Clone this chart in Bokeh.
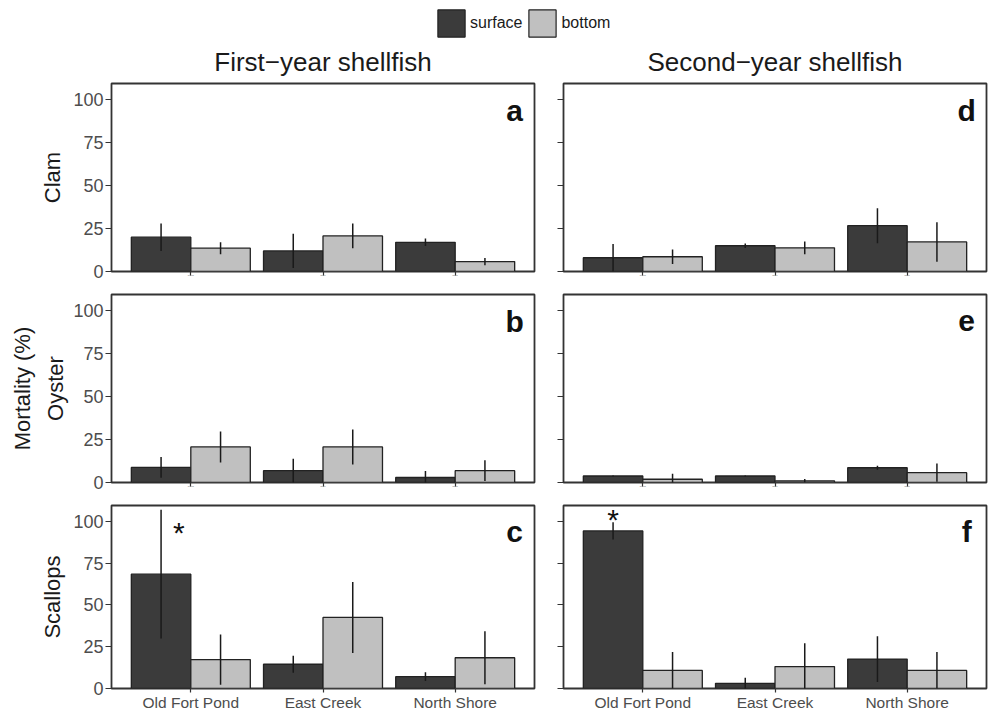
from bokeh.plotting import figure
from bokeh.layouts import column, row
from bokeh.models import (ColumnDataSource, FactorRange, Range1d, FixedTicker,
                          Legend, LegendItem)
from bokeh.transform import dodge
from bokeh.core.properties import value
from bokeh.embed import file_html
from bokeh.resources import INLINE

# ---------------- data ----------------
sites = ["Old Fort Pond", "East Creek", "North Shore"]
y_ticks = [0, 25, 50, 75, 100]
col_titles = ["First\u2212year shellfish", "Second\u2212year shellfish"]
row_labels = ["Clam", "Mortality (%)\nOyster", "Scallops"]
legend_labels = ["surface", "bottom"]
panel_letters = ["a", "b", "c", "d", "e", "f"]

# a: clam, first-year
a_surface = [20.0, 12.0, 17.0]
a_surface_err = [8.0, 10.0, 2.2]
a_bottom = [13.6, 20.7, 5.8]
a_bottom_err = [3.5, 7.2, 2.1]
# b: oyster, first-year
b_surface = [8.8, 6.9, 2.9]
b_surface_err = [6.0, 7.0, 3.8]
b_bottom = [20.7, 20.7, 6.9]
b_bottom_err = [9.0, 10.2, 6.0]
# c: scallops, first-year
c_surface = [68.4, 14.5, 7.1]
c_surface_err = [38.5, 5.1, 2.6]
c_bottom = [17.3, 42.5, 18.4]
c_bottom_err = [15.0, 21.2, 15.9]
# d: clam, second-year
d_surface = [8.0, 15.0, 26.7]
d_surface_err = [8.0, 1.3, 10.2]
d_bottom = [8.6, 13.8, 17.2]
d_bottom_err = [4.2, 3.7, 11.5]
# e: oyster, second-year
e_surface = [3.8, 3.8, 8.6]
e_surface_err = [0.3, 0.3, 1.2]
e_bottom = [1.9, 1.0, 5.7]
e_bottom_err = [3.2, 1.0, 5.3]
# f: scallops, second-year
f_surface = [94.3, 3.1, 17.6]
f_surface_err = [5.2, 3.4, 13.7]
f_bottom = [10.8, 13.1, 10.8]
f_bottom_err = [11.0, 14.0, 11.0]

# significance markers: (site, x offset, y)
c_star = ("Old Fort Pond", -0.09, 93.5)
f_star = ("Old Fort Pond", -0.225, 101.0)

# ---------------- style ----------------
FONT = "Liberation Sans"
DARK = "#3b3b3b"
LIGHT = "#c0c0c0"
EDGE = "#222222"
TEXT = "#4d4d4d"
FRAME_W = 423


def make_panel(letter, surf, surf_err, bott, bott_err, left_col, row_idx,
               star=None):
    tops = [2, 11, 12]
    bottoms = [12, 11, 22]
    frames = [188, 188, 186]
    label_standoffs = [5, 2, 5]
    ml = 111 if left_col else 15
    mr = 14 if left_col else 2
    xr = FactorRange(factors=sites, range_padding=0.2 / 3)
    yr = Range1d(0, 109.5)
    p = figure(x_range=xr, y_range=yr,
               width=ml + FRAME_W + mr,
               height=tops[row_idx] + frames[row_idx] + bottoms[row_idx],
               min_border_left=ml, min_border_right=mr,
               min_border_top=tops[row_idx], min_border_bottom=bottoms[row_idx],
               output_backend="svg", toolbar_location=None)
    src = ColumnDataSource(dict(
        site=sites, surf=surf, bott=bott,
        surf_lo=[m - e for m, e in zip(surf, surf_err)],
        surf_hi=[m + e for m, e in zip(surf, surf_err)],
        bott_lo=[m - e for m, e in zip(bott, bott_err)],
        bott_hi=[m + e for m, e in zip(bott, bott_err)],
    ))
    p.vbar(x=dodge("site", -0.225, range=xr), top="surf", width=0.45,
           fill_color=DARK, line_color=EDGE, line_width=1.3, source=src)
    p.vbar(x=dodge("site", 0.225, range=xr), top="bott", width=0.45,
           fill_color=LIGHT, line_color=EDGE, line_width=1.3, source=src)
    p.segment(x0=dodge("site", -0.225, range=xr), x1=dodge("site", -0.225, range=xr),
              y0="surf_lo", y1="surf_hi", line_color="#1a1a1a", line_width=1.5,
              source=src)
    p.segment(x0=dodge("site", 0.225, range=xr), x1=dodge("site", 0.225, range=xr),
              y0="bott_lo", y1="bott_hi", line_color="#1a1a1a", line_width=1.5,
              source=src)

    lsrc = ColumnDataSource(dict(site=["North Shore"], y=[94.0], t=[letter]))
    p.text(x=dodge("site", 0.45, range=xr), y="y", text="t", source=lsrc,
           text_font=value(FONT), text_font_size="30px", text_font_style="bold",
           text_align="center", text_baseline="middle", text_color="#111111")
    if star is not None:
        ssrc = ColumnDataSource(dict(site=[star[0]], y=[star[2]], t=["*"]))
        p.text(x=dodge("site", star[1], range=xr), y="y", text="t", source=ssrc,
               text_font=value(FONT), text_font_size="30px",
               text_align="center", text_baseline="middle",
               text_color="#111111")

    p.grid.visible = False
    p.outline_line_color = "#333333"
    p.outline_line_width = 1.8
    p.background_fill_color = "white"
    p.border_fill_color = "white"

    ya = p.yaxis[0]
    ya.ticker = FixedTicker(ticks=y_ticks)
    ya.axis_line_color = None
    ya.major_tick_line_color = "#333333"
    ya.major_tick_line_width = 1.2
    ya.major_tick_out = 6
    ya.major_tick_in = 0
    ya.minor_tick_line_color = None
    ya.major_label_text_font = FONT
    ya.major_label_text_color = TEXT
    if left_col:
        ya.major_label_text_font_size = "18px"
        ya.major_label_standoff = 2
        ya.axis_label = row_labels[row_idx]
        ya.axis_label_text_font = FONT
        ya.axis_label_text_font_size = "22px"
        ya.axis_label_text_font_style = "normal"
        ya.axis_label_text_color = "#1a1a1a"
        ya.axis_label_standoff = label_standoffs[row_idx]
        ya.axis_label_text_line_height = 1.32
    else:
        ya.major_label_overrides = {t: "" for t in y_ticks}
        ya.major_label_text_font_size = "1px"
        ya.major_label_standoff = 0

    xa = p.xaxis[0]
    xa.axis_line_color = None
    xa.major_tick_line_color = "#333333"
    xa.major_tick_line_width = 1.2
    xa.major_tick_out = 4
    xa.major_tick_in = 0
    xa.minor_tick_line_color = None
    xa.major_label_text_font = FONT
    xa.major_label_text_color = TEXT
    if row_idx == 2:
        xa.major_label_text_font_size = "15.5px"
        xa.major_label_standoff = 1
    else:
        xa.major_label_overrides = {s: "" for s in sites}
        xa.major_label_text_font_size = "1px"
        xa.major_label_standoff = 0
    return p


pa = make_panel(panel_letters[0], a_surface, a_surface_err, a_bottom, a_bottom_err, True, 0)
pb = make_panel(panel_letters[1], b_surface, b_surface_err, b_bottom, b_bottom_err, True, 1)
pc = make_panel(panel_letters[2], c_surface, c_surface_err, c_bottom, c_bottom_err, True, 2, c_star)
pd = make_panel(panel_letters[3], d_surface, d_surface_err, d_bottom, d_bottom_err, False, 0)
pe = make_panel(panel_letters[4], e_surface, e_surface_err, e_bottom, e_bottom_err, False, 1)
pf = make_panel(panel_letters[5], f_surface, f_surface_err, f_bottom, f_bottom_err, False, 2, f_star)

# ---------------- header: legend + column titles ----------------
HDR_H = 81
hdr = figure(width=988, height=HDR_H, x_range=Range1d(0, 988), y_range=Range1d(0, HDR_H),
             x_axis_location=None, y_axis_location=None, min_border=0,
             output_backend="svg", toolbar_location=None)
hdr.grid.visible = False
hdr.outline_line_color = None
# legend proxies placed outside the visible range
r_surf = hdr.vbar(x=[-500], top=[-500], bottom=[-501], width=1,
                  fill_color=DARK, line_color=EDGE, line_width=1.2)
r_bott = hdr.vbar(x=[-500], top=[-500], bottom=[-501], width=1,
                  fill_color=LIGHT, line_color=EDGE, line_width=1.2)
legend = Legend(items=[LegendItem(label=legend_labels[0], renderers=[r_surf]),
                       LegendItem(label=legend_labels[1], renderers=[r_bott])],
                orientation="horizontal", location=(434, 41),
                glyph_width=34, glyph_height=34, label_standoff=2, spacing=3,
                padding=0, margin=0, border_line_color=None,
                background_fill_alpha=0, label_text_font=FONT,
                label_text_font_size="16px", label_text_color="#1a1a1a",
                label_text_baseline="middle")
hdr.add_layout(legend)

tsrc = ColumnDataSource(dict(x=[322.5, 774.5], y=[HDR_H - 61, HDR_H - 61], t=col_titles))
hdr.text(x="x", y="y", text="t", source=tsrc, text_font=value(FONT),
         text_font_size="26px", text_align="center", text_baseline="middle",
         text_color="#1a1a1a")

layout = column(hdr, row(pa, pd), row(pb, pe), row(pc, pf))

with open("out.html", "w") as fh:
    fh.write(file_html(layout, INLINE))
